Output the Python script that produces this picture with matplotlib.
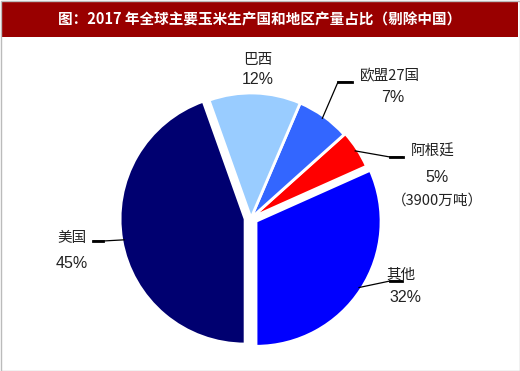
import numpy as np
import matplotlib.pyplot as plt
from matplotlib.patches import Rectangle

plt.rcParams['font.family'] = ['Noto Sans CJK SC', 'DejaVu Sans']

# Data (order: counter-clockwise from 6 o'clock).
names = ['其他', '阿根廷', '欧盟27国', '巴西', '美国']
shares = [32, 5, 7, 12, 45]
colors = ['#0000FF', '#FF0000', '#3366FF', '#99CCFF', '#000070']
explode = [6, 1.5, 0, 0, 6]  # in pixels (pie explode is in data units)
title = '图：2017 年全球主要玉米生产国和地区产量占比（剔除中国）'

W, H = 520, 371
fig = plt.figure(figsize=(W / 100, H / 100), dpi=100)
ax = fig.add_axes([0, 0, 1, 1])
ax.set_xlim(0, W)
ax.set_ylim(0, H)
ax.set_aspect('equal')
ax.axis('off')

# Title bar.
ax.add_patch(Rectangle((2, H - 37), W - 4, 35, facecolor='#990000', edgecolor='none'))
ax.text(W / 2, H - 19.5, title, color='white', fontsize=10.5, fontweight='bold',
        ha='center', va='center')
# Thin frame around the picture.
ax.add_patch(Rectangle((0.5, 0.5), W - 1, H - 1, facecolor='none', edgecolor='#BBBBBB', lw=1))

cx, cy, R = 251, H - 218, 125
wedges, _ = ax.pie(shares, colors=colors, explode=explode, startangle=-90,
                   counterclock=True, center=(cx, cy), radius=R,
                   wedgeprops=dict(edgecolor='white', linewidth=2))
ax.set_xlim(0, W)
ax.set_ylim(0, H)


def edge_point(w, extra=0):
    mid = np.deg2rad((w.theta1 + w.theta2) / 2)
    x0, y0 = w.center
    return x0 + (w.r + extra) * np.cos(mid), y0 + (w.r + extra) * np.sin(mid)


# Label layout (pixel positions, y measured from top).
fs_name, fs_pct = 10.5, 11.5
lab = {
    '巴西': dict(name=(258, 60), pct=(258, 79), line=None),
    '欧盟27国': dict(name=(390, 76), pct=(393, 98), line=[(338, 82), (352, 82)]),
    '阿根廷': dict(name=(433, 152), pct=(437, 177), line=[(390, 157), (403, 157)]),
    '美国': dict(name=(72, 238), pct=(72, 263), line=[(103, 241), (93, 241)]),
    '其他': dict(name=(401, 275), pct=(405, 298), line=[(390, 281), (402, 281)]),
}

for w, name, s in zip(wedges, names, shares):
    d = lab[name]
    ax.text(d['name'][0], H - d['name'][1], name, fontsize=fs_name, color='#222222',
            ha='center', va='center')
    ax.text(d['pct'][0], H - d['pct'][1], f'{s}%', fontsize=fs_pct, color='#222222',
            ha='center', va='center', family=['Liberation Sans', 'DejaVu Sans'])
    if d['line'] is not None:
        px, py = edge_point(w, -3)
        xs = [px] + [p[0] for p in d['line']]
        ys = [py] + [H - p[1] for p in d['line']]
        ax.plot(xs, ys, color='black', lw=0.9, solid_capstyle='butt')
        # thicker end of the leader line
        ax.plot([p[0] for p in d['line']], [H - p[1] for p in d['line']], color='black', lw=2)

ax.text(437, H - 201, '（3900万吨）', fontsize=fs_name, color='#222222', ha='center', va='center')

plt.savefig('out.png', dpi=100)
plt.close()
